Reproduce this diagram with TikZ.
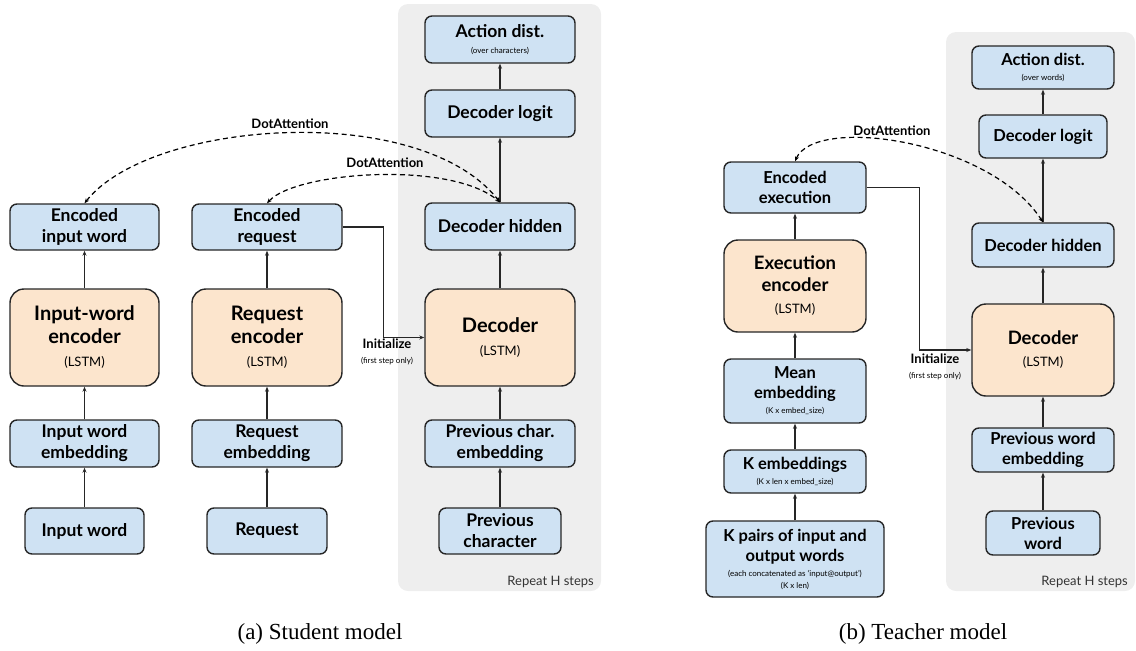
\documentclass[tikz,border=0pt]{standalone}
\usepackage{fontspec}
\setmainfont{Lato}
\newfontfamily\capfont{Liberation Serif}
\usetikzlibrary{arrows.meta,positioning,backgrounds}
\definecolor{boxblue}{HTML}{CFE2F3}
\definecolor{boxorange}{HTML}{FCE5CD}
\definecolor{panelgray}{HTML}{EEEEEE}
\definecolor{edgegray}{HTML}{262626}
\newcommand{\sub}[1]{{\fontsize{8}{9}\selectfont\mdseries #1}}
\newcommand{\lstm}{{\fontsize{13}{15}\selectfont\mdseries (LSTM)}}

\begin{document}
\begin{tikzpicture}[x=1pt,y=-1pt]
\tikzstyle{blk}=[draw=edgegray, line width=1.4pt, rounded corners=7pt, fill=boxblue, align=center, inner sep=0pt, font=\fontsize{17.5}{21}\selectfont\bfseries]
\tikzstyle{blkb}=[blk, font=\fontsize{16.5}{20}\selectfont\bfseries]
\tikzstyle{enc}=[blk, fill=boxorange, rounded corners=14pt, font=\fontsize{20}{23}\selectfont\bfseries]
\tikzstyle{encb}=[enc, font=\fontsize{18.5}{22}\selectfont\bfseries]
\tikzstyle{flow}=[draw=edgegray, line width=1.2pt, -{Stealth[length=5pt,width=4pt]}]
\tikzstyle{att}=[draw=black, line width=1.2pt, dash pattern=on 5pt off 3.5pt, {Stealth[length=5pt,width=4pt]}-{Stealth[length=5pt,width=4pt]}]
\tikzstyle{lbl}=[align=center, inner sep=0pt, font=\fontsize{13}{14}\selectfont\bfseries]
\tikzstyle{rep}=[inner sep=0pt, text=black!80, font=\fontsize{13}{15}\selectfont]

\useasboundingbox (0,0) rectangle (1136,651);

% repeated part
\fill[panelgray, rounded corners=10pt] (398,4) rectangle (601,591);
\fill[panelgray, rounded corners=10pt] (946,32) rectangle (1135,591);

%% (a) student
\node[blk, minimum width=149, minimum height=46] (encin) at (84.5,227) {Encoded\\input word};
\node[blk, minimum width=150, minimum height=46] (encreq) at (267,227) {Encoded\\request};
\node[enc, minimum width=149, minimum height=97] (iwenc) at (84.5,337.5) {Input-word\\encoder\\\lstm};
\node[enc, minimum width=150, minimum height=97] (reqenc) at (267,337.5) {Request\\encoder\\\lstm};
\node[blk, minimum width=149, minimum height=47] (iwemb) at (84.5,443.5) {Input word\\embedding};
\node[blk, minimum width=150, minimum height=47] (reqemb) at (267,443.5) {Request\\embedding};
\node[blk, minimum width=119, minimum height=46] (iwrd) at (84.5,531) {Input word};
\node[blk, minimum width=120, minimum height=46] (reqst) at (267,531) {Request};

\node[blk, minimum width=150, minimum height=47] (dista) at (500,39.5) {Action dist.\\[-5pt]\sub{(over characters)}};
\node[blk, minimum width=150, minimum height=47] (logita) at (500,113.5) {Decoder logit};
\node[blk, minimum width=150, minimum height=47] (hida) at (500,226.5) {Decoder hidden};
\node[enc, minimum width=150, minimum height=97] (deca) at (500,337.5) {Decoder\\\lstm};
\node[blk, minimum width=150, minimum height=47] (pcemb) at (500,443.5) {Previous char.\\embedding};
\node[blk, minimum width=122, minimum height=46] (pchar) at (500,531) {Previous\\character};
\node[rep, anchor=east] (repa) at (594,582) {Repeat H steps};

\draw[flow] (iwrd) -- (iwemb);
\draw[flow] (iwemb) -- (iwenc);
\draw[flow] (iwenc) -- (encin);
\draw[flow] (reqst) -- (reqemb);
\draw[flow] (reqemb) -- (reqenc);
\draw[flow] (reqenc) -- (encreq);
\draw[flow] (pchar) -- (pcemb);
\draw[flow] (pcemb) -- (deca);
\draw[flow] (deca) -- (hida);
\draw[flow] (hida) -- (logita);
\draw[flow] (logita) -- (dista);
\draw[flow] (encreq.east) -- ++(41,0) |- (deca.west);
\node[lbl] (inita) at (387,352) {Initialize\\[1pt]\sub{(first step only)}};

\draw[att] (encin.north) .. controls (150,120) and (420,100) .. (hida.north);
\draw[att] (encreq.north) .. controls (295,172) and (450,160) .. (hida.north);
\node[lbl] (atta) at (290,124) {DotAttention};
\node[lbl] (attb) at (385,163) {DotAttention};

%% (b) teacher
\node[blkb, minimum width=142, minimum height=51] (encex) at (795,187.5) {Encoded\\execution};
\node[encb, minimum width=142, minimum height=92] (exenc) at (795,286) {Execution\\encoder\\\lstm};
\node[blkb, minimum width=142, minimum height=64] (meanemb) at (795,391) {Mean\\embedding\\[-5pt]\sub{(K x embed\_size)}};
\node[blkb, minimum width=142, minimum height=43] (kemb) at (795,471.5) {K embeddings\\[-5pt]\sub{(K x len x embed\_size)}};
\node[blkb, minimum width=178, minimum height=76] (kpairs) at (795,559) {K pairs of input and\\output words\\[-5pt]\sub{(each concatenated as `input@output')}\\[-8pt]\sub{(K x len)}};

\node[blkb, minimum width=142, minimum height=43] (distb) at (1043,67.5) {Action dist.\\[-5pt]\sub{(over words)}};
\node[blkb, minimum width=128, minimum height=43] (logitb) at (1043,136.5) {Decoder logit};
\node[blkb, minimum width=142, minimum height=44] (hidb) at (1043,245) {Decoder hidden};
\node[encb, minimum width=142, minimum height=92] (decb) at (1043,350) {Decoder\\\lstm};
\node[blkb, minimum width=142, minimum height=44] (pwemb) at (1043,450) {Previous word\\embedding};
\node[blkb, minimum width=114, minimum height=44] (pword) at (1043,533) {Previous\\word};
\node[rep, anchor=east] (repb) at (1128,582) {Repeat H steps};

\draw[flow] (kpairs) -- (kemb);
\draw[flow] (kemb) -- (meanemb);
\draw[flow] (meanemb) -- (exenc);
\draw[flow] (exenc) -- (encex);
\draw[flow] (pword) -- (pwemb);
\draw[flow] (pwemb) -- (decb);
\draw[flow] (decb) -- (hidb);
\draw[flow] (hidb) -- (logitb);
\draw[flow] (logitb) -- (distb);
\draw[flow] (encex.east) -- ++(53,0) |- (decb.west);
\node[lbl] (initb) at (935,367) {Initialize\\[1pt]\sub{(first step only)}};

\draw[att] (encex.north) .. controls (815,115) and (990,140) .. (hidb.north);
\node[lbl] (attc) at (892,131) {DotAttention};

% captions
\node[font=\capfont\fontsize{23}{26}\selectfont] (capa) at (320,634) {(a) Student model};
\node[font=\capfont\fontsize{23}{26}\selectfont] (capb) at (923,634) {(b) Teacher model};
\end{tikzpicture}
\end{document}
